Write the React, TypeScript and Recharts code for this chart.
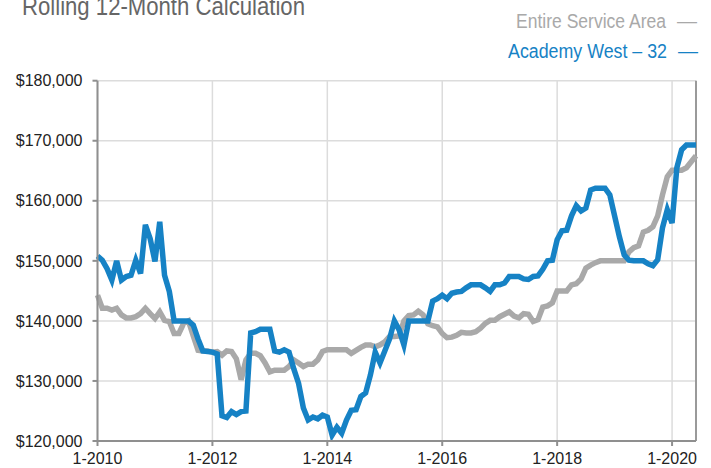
import { CartesianGrid, Line, LineChart, ReferenceLine, XAxis, YAxis } from "recharts";

// Rolling 12-month values, monthly from 1-2010, in $ thousands.
const serviceArea = [
  144.3, 142.1, 142.1, 141.8, 142.1, 141, 140.5, 140.5, 140.7, 141.2, 142.1, 141.2,
  140.4, 141.5, 140.1, 139.9, 137.9, 137.9, 139.6, 140, 137.5, 135.1, 135, 135,
  134.8, 134.9, 134.3, 135, 134.9, 133.7, 130.2, 133.5, 134.6, 134.6, 134.2, 133,
  131.5, 131.8, 131.8, 131.8, 132.4, 133.5, 133, 132.4, 132.8, 132.8, 133.5, 134.9,
  135.2, 135.2, 135.2, 135.2, 135.2, 134.6, 135.1, 135.6, 136, 136, 135.7, 136,
  136.5, 137.4, 137.4, 137.5, 140, 140.9, 141, 141.6, 141, 139.5, 139.2, 139,
  137.9, 137.2, 137.3, 137.6, 138.1, 138, 138, 138.2, 138.8, 139.6, 140.1, 140.1,
  140.7, 141.1, 141.5, 140.8, 140.5, 141.2, 141.1, 139.9, 140.2, 142.3, 142.5, 143,
  145, 145, 145, 146, 146.2, 147, 148.8, 149.3, 149.7, 150, 150, 150,
  150, 150, 150, 151.5, 152.2, 152.5, 154.8, 155.1, 155.7, 157.5, 161, 164,
  165.1, 165.1, 165.1, 165.5, 166.5, 167.5,
];

const academyWest = [
  150.8, 150.1, 148.7, 146.8, 150, 146.8, 147.4, 147.6, 150.1, 147.9, 156, 153.7,
  149.9, 156.5, 147.6, 144.9, 140, 140, 140, 140, 139.3, 137, 135, 134.9,
  134.8, 134.5, 124.2, 123.9, 124.9, 124.4, 124.9, 125, 138, 138.2, 138.6, 138.6,
  138.6, 135, 134.8, 135.2, 134.8, 132, 129.6, 125.5, 123.5, 124, 123.7, 124.3,
  124, 121, 122.3, 121.3, 123.5, 125.1, 125.2, 127.4, 128, 131, 134.8, 133,
  135, 137, 140, 138.5, 136, 140, 140, 140, 140, 140, 143.3, 143.7,
  144.3, 143.7, 144.6, 144.8, 144.9, 145.5, 146, 146, 146, 145.5, 144.9, 146,
  146, 146.3, 147.4, 147.4, 147.4, 147, 146.9, 147.4, 147.5, 148.6, 150, 150.1,
  153.5, 155, 155.1, 157.5, 159.2, 158.3, 158.8, 161.8, 162.1, 162.1, 162.1, 161,
  157.5, 154, 151, 150.1, 150, 150, 150, 149.5, 149.2, 150.2, 155.5, 158.5,
  156.3, 165.5, 168.5, 169.3, 169.3, 169.3,
];

const xTicks = [0, 24, 48, 72, 96, 120];
const yTicks = [120000, 130000, 140000, 150000, 160000, 170000, 180000];

const data = serviceArea.map((v, i) => ({
  m: i,
  area: v * 1000,
  west: academyWest[i] * 1000,
}));

const font = "'Liberation Sans', Arial, Helvetica, sans-serif";
const gray = "#a9a9a9";
const blue = "#1682c5";

export default function App() {
  return (
    <div style={{ position: "absolute", left: 0, top: 0, width: 711, height: 468, background: "#fff" }}>
      <LineChart
        width={711}
        height={468}
        data={data}
        margin={{ top: 80.7, right: 15, bottom: 0, left: 0 }}
      >
        <CartesianGrid stroke="#dcdcdc" strokeWidth={1.5} />
        <XAxis
          type="number"
          dataKey="m"
          domain={[0, 125]}
          ticks={xTicks}
          tickFormatter={(m: number) => `1-${2010 + m / 12}`}
          height={27}
          tickSize={5}
          tickMargin={7}
          stroke="#8f8f8f"
          strokeWidth={2}
          tick={{ fill: "#222", fontSize: 16, fontFamily: font }}
        />
        <YAxis
          domain={[120000, 180000]}
          ticks={yTicks}
          width={97.5}
          tickSize={5}
          tickMargin={10}
          stroke="#8f8f8f"
          strokeWidth={2}
          tickFormatter={(v: number) => `$${v.toLocaleString("en-US")}`}
          tick={{ fill: "#222", fontSize: 16, fontFamily: font }}
        />
        <ReferenceLine x={125} stroke="#9a9a9a" strokeWidth={2} />
        <Line
          type="linear"
          dataKey="area"
          stroke={gray}
          strokeWidth={5.5}
          dot={false}
          isAnimationActive={false}
        />
        <Line
          type="linear"
          dataKey="west"
          stroke={blue}
          strokeWidth={5.5}
          dot={false}
          isAnimationActive={false}
        />
      </LineChart>
      <svg
        width={711}
        height={70}
        style={{ position: "absolute", left: 0, top: 0, pointerEvents: "none" }}
      >
        <text x={22} y={15} fontSize={25} fill="#666" fontFamily={font} textLength={283} lengthAdjust="spacingAndGlyphs">
          Rolling 12-Month Calculation
        </text>
        <text x={666} y={27.5} textAnchor="end" fontSize={20} fill={gray} fontFamily={font} textLength={150} lengthAdjust="spacingAndGlyphs">
          Entire Service Area
        </text>
        <text x={677} y={27.5} fontSize={20} fill={gray} fontFamily={font}>
          —
        </text>
        <text x={667} y={57.5} textAnchor="end" fontSize={20} fill={blue} fontFamily={font} textLength={159} lengthAdjust="spacingAndGlyphs">
          Academy West – 32
        </text>
        <text x={678} y={57.5} fontSize={20} fill={blue} fontFamily={font}>
          —
        </text>
      </svg>
    </div>
  );
}
